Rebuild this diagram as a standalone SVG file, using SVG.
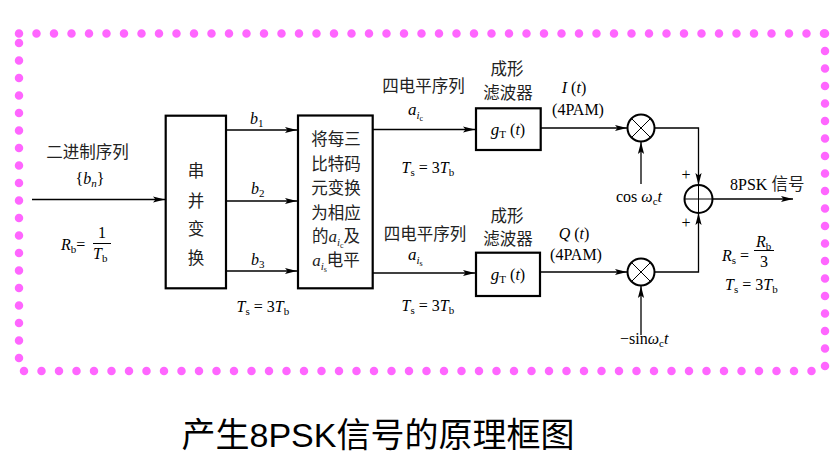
<svg xmlns="http://www.w3.org/2000/svg" width="840" height="465" viewBox="0 0 840 465">
  <style>
    .t { font-family: 'Liberation Serif', 'Noto Sans CJK SC', serif; font-size: 16px; fill: #000; }
    .cn { font-family: 'Liberation Serif', 'Noto Sans CJK SC', serif; font-size: 16.5px; fill: #222; }
    .mid { text-anchor: middle; }
    .i { font-style: italic; }
    .sub { font-size: 11px; font-style: normal; }
    .subi { font-size: 11px; font-style: italic; }
    .sub2 { font-size: 8px; font-style: normal; }
    .var { font-size: 17px; font-style: italic; }
    .cap { font-family: 'Liberation Sans', 'Noto Sans CJK SC', sans-serif; font-size: 34px; fill: #000; }
    .box { fill: #fff; stroke: #000; stroke-width: 2.2; }
    .ring { fill: #fff; stroke: #000; stroke-width: 2; }
    .wire { fill: none; stroke: #000; stroke-width: 1.3; }
    .cross { fill: none; stroke: #000; stroke-width: 1; }
    .dots { fill: none; stroke: #FF66FF; stroke-width: 8.5; stroke-linecap: round; stroke-dasharray: 0 17.5; }
  </style>
  <defs>
    <marker id="arr" markerWidth="14" markerHeight="8" refX="12" refY="4" orient="auto" markerUnits="userSpaceOnUse">
      <path d="M0,0.9 L12,4 L0,7.1 L2.5,4 z" fill="#000"/>
    </marker>
  </defs>

  <rect width="840" height="465" fill="#fff"/>

  <!-- dotted frame -->
  <g id="frame">
    <path class="dots" d="M19,33.5 H826"/>
    <path class="dots" d="M825,33.5 V367"/>
    <path class="dots" d="M24,371 H813"/>
    <path class="dots" d="M19,43 V359"/>
  </g>

  <!-- connectors -->
  <g id="connectors">
    <path class="wire" d="M32,199.5 H165" marker-end="url(#arr)"/>
    <path class="wire" d="M226,130 H297" marker-end="url(#arr)"/>
    <path class="wire" d="M226,201 H297" marker-end="url(#arr)"/>
    <path class="wire" d="M226,271 H297" marker-end="url(#arr)"/>
    <path class="wire" d="M373,129.5 H475" marker-end="url(#arr)"/>
    <path class="wire" d="M373,273 H475" marker-end="url(#arr)"/>
    <path class="wire" d="M541,128 H627" marker-end="url(#arr)"/>
    <path class="wire" d="M541,272 H627" marker-end="url(#arr)"/>
    <path class="wire" d="M641,184 V142" marker-end="url(#arr)"/>
    <path class="wire" d="M641,335 V286" marker-end="url(#arr)"/>
    <path class="wire" d="M654.5,128 H698.5 V185" marker-end="url(#arr)"/>
    <path class="wire" d="M654.5,272 H698.5 V213" marker-end="url(#arr)"/>
    <path class="wire" d="M712.5,199 H793" marker-end="url(#arr)"/>
  </g>

  <!-- input labels -->
  <g id="input-labels">
    <text class="cn mid" x="87.5" y="158" font-size="17">二进制序列</text>
    <text class="t mid" x="90" y="184">{<tspan class="i">b</tspan><tspan class="subi" dy="3">n</tspan><tspan dy="-3">}</tspan></text>
    <text class="t" x="61" y="250"><tspan class="i">R</tspan><tspan class="sub" dy="3">b</tspan><tspan dy="-3">=</tspan></text>
    <path d="M93,243.5 H111" stroke="#000" stroke-width="1"/>
    <text class="t mid" x="102" y="238">1</text>
    <text class="t" x="93" y="259"><tspan class="i">T</tspan><tspan class="sub" dy="3">b</tspan></text>
  </g>

  <!-- serial to parallel converter -->
  <g id="s2p">
    <rect class="box" x="165.7" y="115.7" width="60.3" height="172.6"/>
    <text class="cn mid" x="196" y="177">串</text>
    <text class="cn mid" x="196" y="206.5">并</text>
    <text class="cn mid" x="196" y="235">变</text>
    <text class="cn mid" x="196" y="263.5">换</text>
  </g>

  <!-- bit labels -->
  <g id="bit-labels">
    <text class="t" x="250" y="123.5"><tspan class="i">b</tspan><tspan class="sub" dy="3">1</tspan></text>
    <text class="t" x="251" y="193.5"><tspan class="i">b</tspan><tspan class="sub" dy="3">2</tspan></text>
    <text class="t" x="251" y="265"><tspan class="i">b</tspan><tspan class="sub" dy="3">3</tspan></text>
    <text class="t" x="236.5" y="312"><tspan class="i">T</tspan><tspan class="sub" dy="3">s</tspan><tspan dy="-3"> = 3</tspan><tspan class="i">T</tspan><tspan class="sub" dy="3">b</tspan></text>
  </g>

  <!-- level mapper -->
  <g id="mapper">
    <rect class="box" x="298" y="115.5" width="74.7" height="172.8"/>
    <text class="cn mid" x="336" y="145">将每三</text>
    <text class="cn mid" x="336" y="169.5">比特码</text>
    <text class="cn mid" x="336" y="194">元变换</text>
    <text class="cn mid" x="336" y="218.5">为相应</text>
    <text class="cn mid" x="336" y="242">的<tspan class="var">a</tspan><tspan class="subi" dy="4">i</tspan><tspan class="sub2" dy="2">c</tspan><tspan dy="-6">及</tspan></text>
    <text class="cn mid" x="336" y="265.5"><tspan class="var">a</tspan><tspan class="subi" dy="4">i</tspan><tspan class="sub2" dy="2">s</tspan><tspan dy="-6">电平</tspan></text>
  </g>

  <!-- upper branch labels -->
  <g id="upper-labels">
    <text class="cn mid" x="423.5" y="91.5">四电平序列</text>
    <text class="t" x="408" y="115"><tspan class="var">a</tspan><tspan class="subi" dy="4">i</tspan><tspan class="sub2" dy="2">c</tspan></text>
    <text class="t" x="401.5" y="172.5"><tspan class="i">T</tspan><tspan class="sub" dy="3">s</tspan><tspan dy="-3"> = 3</tspan><tspan class="i">T</tspan><tspan class="sub" dy="3">b</tspan></text>
  </g>

  <!-- lower branch labels -->
  <g id="lower-labels">
    <text class="cn mid" x="425" y="239.5">四电平序列</text>
    <text class="t" x="408" y="260"><tspan class="var">a</tspan><tspan class="subi" dy="4">i</tspan><tspan class="sub2" dy="2">s</tspan></text>
    <text class="t" x="401.5" y="310.5"><tspan class="i">T</tspan><tspan class="sub" dy="3">s</tspan><tspan dy="-3"> = 3</tspan><tspan class="i">T</tspan><tspan class="sub" dy="3">b</tspan></text>
  </g>

  <!-- upper shaping filter -->
  <g id="filter-i">
    <text class="cn mid" x="507" y="75">成形</text>
    <text class="cn mid" x="508" y="98.5">滤波器</text>
    <rect class="box" x="476" y="108.3" width="64.7" height="41.7"/>
    <text class="t mid" x="508" y="135"><tspan class="var">g</tspan><tspan class="sub" dy="3">T</tspan><tspan dy="-3"> (</tspan><tspan class="i">t</tspan>)</text>
  </g>

  <!-- lower shaping filter -->
  <g id="filter-q">
    <text class="cn mid" x="507" y="222">成形</text>
    <text class="cn mid" x="508" y="245">滤波器</text>
    <rect class="box" x="476" y="252.7" width="64" height="43.3"/>
    <text class="t mid" x="508" y="280"><tspan class="var">g</tspan><tspan class="sub" dy="3">T</tspan><tspan dy="-3"> (</tspan><tspan class="i">t</tspan>)</text>
  </g>

  <!-- I / Q labels -->
  <g id="iq-labels">
    <text class="t mid" x="574" y="93"><tspan class="i">I</tspan> (<tspan class="i">t</tspan>)</text>
    <text class="t mid" x="578" y="115">(4PAM)</text>
    <text class="t mid" x="574" y="238.5"><tspan class="i">Q</tspan> (<tspan class="i">t</tspan>)</text>
    <text class="t mid" x="576" y="260">(4PAM)</text>
  </g>

  <!-- upper mixer -->
  <g id="mixer-i">
    <circle class="ring" cx="641" cy="128" r="13.5"/>
    <path class="cross" d="M631.5,118.5 L650.5,137.5 M650.5,118.5 L631.5,137.5"/>
    <text class="t" x="616" y="201.5">cos <tspan class="i">ω</tspan><tspan class="sub" dy="3">c</tspan><tspan class="i" dy="-3">t</tspan></text>
  </g>

  <!-- lower mixer -->
  <g id="mixer-q">
    <circle class="ring" cx="641" cy="272" r="13.5"/>
    <path class="cross" d="M631.5,262.5 L650.5,281.5 M650.5,262.5 L631.5,281.5"/>
    <text class="t" x="620" y="343.5">−sin<tspan class="i">ω</tspan><tspan class="sub" dy="3">c</tspan><tspan class="i" dy="-3">t</tspan></text>
  </g>

  <!-- adder -->
  <g id="adder">
    <circle class="ring" cx="698.5" cy="199" r="14"/>
    <path class="cross" d="M698.5,185 V213 M684.5,199 H712.5"/>
    <text class="t mid" x="686" y="180" font-size="13" fill="#444">+</text>
    <text class="t mid" x="686" y="228" font-size="13" fill="#444">+</text>
  </g>

  <!-- output labels -->
  <g id="output-labels">
    <text class="t" x="730" y="190">8PSK<tspan class="cn"> 信号</tspan></text>
    <text class="t" x="722" y="261"><tspan class="i">R</tspan><tspan class="sub" dy="3">s</tspan><tspan dy="-3"> =</tspan></text>
    <path d="M754,250.5 H774" stroke="#000" stroke-width="1"/>
    <text class="t" x="756" y="246.5"><tspan class="i">R</tspan><tspan class="sub" dy="3">b</tspan></text>
    <text class="t mid" x="764" y="267">3</text>
    <text class="t" x="725" y="289.5"><tspan class="i">T</tspan><tspan class="sub" dy="3">s</tspan><tspan dy="-3"> = 3</tspan><tspan class="i">T</tspan><tspan class="sub" dy="3">b</tspan></text>
  </g>

  <!-- caption -->
  <text class="cap" x="181.5" y="447">产生8PSK信号的原理框图</text>
</svg>
